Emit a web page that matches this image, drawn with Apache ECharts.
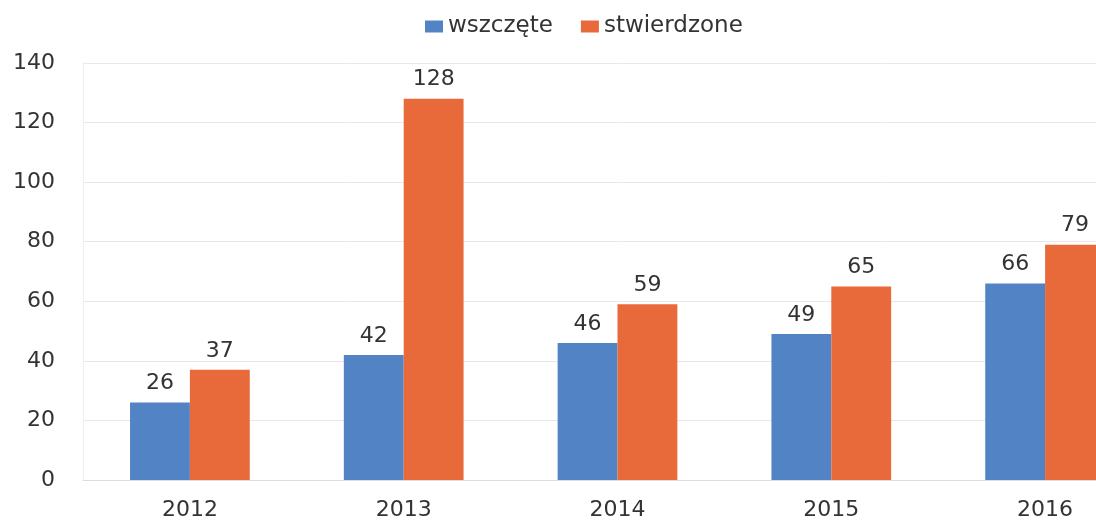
<!DOCTYPE html>
<html>
<head>
<meta charset="utf-8">
<script src="https://cdn.jsdelivr.net/npm/echarts@6/dist/echarts.min.js"></script>
<style>
  html, body { margin: 0; padding: 0; background: #fff; overflow: hidden; }
  /* oryginał jest ucięty z prawej, więc wykres jest szerszy niż okno */
  #chart { width: 1152px; height: 524px; }
</style>
</head>
<body>
<div id="chart"></div>
<script>
const years = ['2012', '2013', '2014', '2015', '2016']
const wszczete = [26, 42, 46, 49, 66]
const stwierdzone = [37, 128, 59, 65, 79]

const myChart = echarts.init(document.getElementById('chart'))
const font = 'DejaVu Sans'
const option = {
  animation: false,
  textStyle: { fontFamily: font },
  legend: {
    top: 10,
    left: 420,
    itemWidth: 18,
    itemHeight: 12,
    icon: 'rect',
    itemGap: 28,
    textStyle: { fontSize: 23, color: '#333', fontFamily: font }
  },
  grid: { left: 83, right: 0, top: 63, bottom: 44 },
  xAxis: {
    type: 'category',
    data: years,
    axisLine: { lineStyle: { color: '#ddd' } },
    axisTick: { show: false },
    axisLabel: { fontSize: 22, color: '#333', margin: 19, fontFamily: font }
  },
  yAxis: {
    type: 'value',
    min: 0,
    max: 140,
    interval: 20,
    axisLine: { show: true, lineStyle: { color: '#eee' } },
    axisLabel: { fontSize: 22, color: '#333', margin: 28, fontFamily: font },
    splitLine: { lineStyle: { color: '#e8e8e8' } }
  },
  color: ['#5283c4', '#e8693a'],
  series: [
    {
      name: 'wszczęte',
      type: 'bar',
      data: wszczete,
      barGap: '0%',
      barCategoryGap: '44%',
      label: { show: true, position: 'top', fontSize: 22, color: '#333', distance: 8 }
    },
    {
      name: 'stwierdzone',
      type: 'bar',
      data: stwierdzone,
      label: { show: true, position: 'top', fontSize: 22, color: '#333', distance: 8 }
    }
  ]
}
myChart.setOption(option)
</script>
</body>
</html>
